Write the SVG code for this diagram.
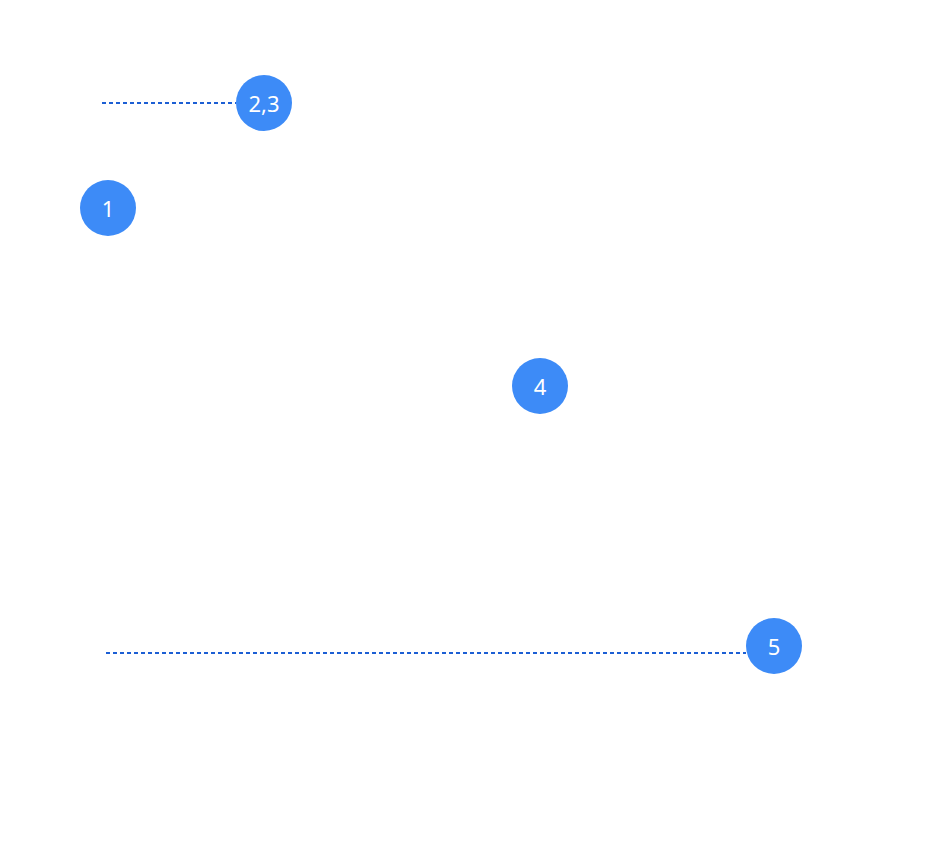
<svg xmlns="http://www.w3.org/2000/svg" width="944" height="842" viewBox="0 0 944 842">
<style>
.badge{fill:#3d8bf7}
.lbl{fill:#ffffff;font-family:"Noto Sans","Open Sans","Liberation Sans",sans-serif;font-size:22px;text-anchor:middle;dominant-baseline:central}
.lead{stroke:#1c5fd4;stroke-width:2;stroke-dasharray:4 3;fill:none}
</style>
<rect width="944" height="842" fill="#ffffff"/>
<g id="connectors">
<line class="lead" x1="102" y1="103" x2="236" y2="103"/>
<line class="lead" x1="106" y1="653" x2="746" y2="653"/>
</g>
<g id="node-23"><circle class="badge" cx="264" cy="103" r="28"/><text class="lbl" x="264" y="103">2,3</text></g>
<g id="node-1"><circle class="badge" cx="108" cy="208" r="28"/><text class="lbl" x="108" y="208">1</text></g>
<g id="node-4"><circle class="badge" cx="540" cy="386" r="28"/><text class="lbl" x="540" y="386">4</text></g>
<g id="node-5"><circle class="badge" cx="774" cy="646" r="28"/><text class="lbl" x="774" y="646">5</text></g>
</svg>
